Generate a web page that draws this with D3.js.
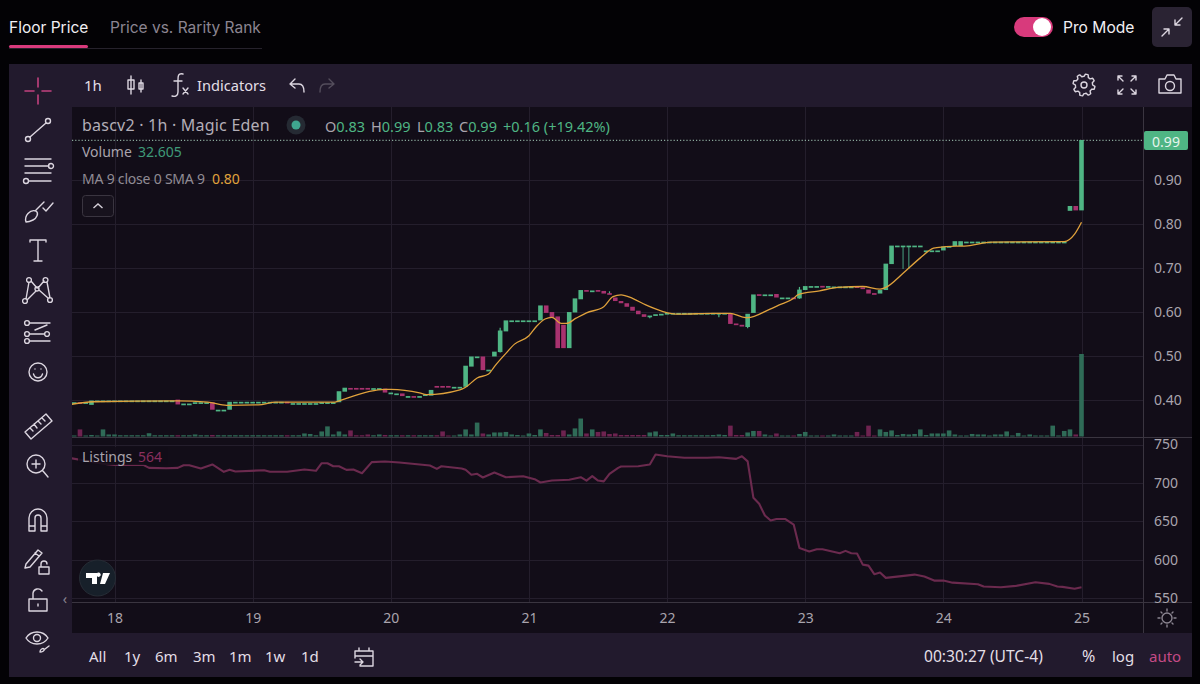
<!DOCTYPE html>
<html><head><meta charset="utf-8">
<script src="https://cdn.jsdelivr.net/npm/d3@7"></script>
<style>
html,body{margin:0;padding:0;background:#030205;overflow:hidden}
svg{display:block}
text{font-family:"Noto Sans",sans-serif}
.ui text,text.ui{font-family:Inter,sans-serif}
.axis path,.axis line{display:none}
.axis text{font-family:"Noto Sans",sans-serif;font-size:14px;fill:#a9a4ad}
</style></head><body>
<svg id="c" width="1200" height="684"></svg>
<script>
// ---- chart data ----
const firstHour = -7; // hours relative to day 18 00:00
const opens = [
 .392,.394,.393,.388,.398,.398,.398,
 .398,.398,.398,.398,.398,.398,.398,.398,.398,.398,
 .398,.400,.391,.391,.394,.394,.394,.394,.377,.377,
 .377,.395,.395,.395,.395,.395,.395,.395,.395,.395,
 .395,.392,.392,.392,.392,.392,.394,.394,.394,.394,
 .418,.4265,.4265,.4265,.4265,.426,.426,.425,.416,.414,
 .414,.408,.408,.408,.409,.409,.431,.431,.431,.429,
 .429,.429,.475,.498,.498,.468,.498,.508,.555,.58,
 .58,.58,.58,.58,.58,.614,.599,.589,.570,.517,
 .598,.628,.649,.648,.649,.647,.642,.632,.624,.619,
 .611,.602,.594,.590,.594,.595,.597,.597,.597,.597,
 .597,.597,.597,.597,.597,.597,.597,.595,.573,.570,
 .565,.597,.6395,.639,.639,.640,.632,.632,.632,.630,
 .649,.658,.658,.6585,.658,.657,.657,.657,.657,.6575,
 .655,.650,.642,.641,.649,.708,.75,.75,.75,.75,
 .75,.739,.739,.739,.739,.749,.749,.749,.759,.759,
 .759,.759,.759,.759,.759,.759,.759,.759,.759,.759,
 .759,.759,.759,.759,.759,.759,.829,.84,.83];
const closes = [
 .394,.393,.394,.398,.398,.398,.398,
 .398,.398,.398,.398,.398,.398,.398,.398,.398,.398,
 .398,.389,.391,.391,.394,.394,.394,.377,.377,.377,
 .395,.395,.395,.395,.395,.395,.395,.395,.395,.395,
 .393,.392,.392,.392,.392,.392,.394,.394,.394,.419,
 .427,.426,.426,.426,.426,.426,.426,.416,.416,.414,
 .408,.408,.407,.408,.412,.422,.430,.430,.430,.429,
 .429,.477,.498,.498,.467,.468,.509,.557,.580,.58,
 .58,.58,.58,.58,.614,.597,.586,.517,.517,.599,
 .630,.649,.648,.648,.648,.641,.641,.624,.619,.611,
 .602,.594,.588,.591,.594,.595,.597,.597,.597,.597,
 .597,.597,.597,.597,.597,.597,.597,.572,.572,.566,
 .595,.639,.639,.639,.639,.632,.632,.632,.631,.650,
 .658,.658,.658,.658,.658,.657,.657,.657,.657,.657,
 .653,.641,.641,.649,.709,.750,.75,.75,.75,.75,
 .75,.739,.739,.739,.748,.749,.760,.760,.759,.759,
 .759,.759,.759,.759,.759,.759,.759,.759,.759,.759,
 .759,.759,.759,.759,.759,.759,.84,.83,.99];
const wickHours = [67,86,93,105,110,119,137,138];
const wickHighs = [.564,.647,.591,.597,.595,.657,.75,.75];
const wickLows  = [.508,.641,.586,.588,.563,.630,.698,.698];
const volumes = [
 .4,2.8,.4,.6,.4,2.8,.8,
 .8,.5,.5,.5,.5,.5,1.3,.5,.5,.5,
 .5,.5,.5,.5,.8,.5,.5,.6,.5,.5,
 .5,.5,.5,.5,.5,.5,.5,.5,.5,.5,
 .5,.5,.5,1.2,1,.5,2,4,.8,2,
 .8,2.4,.5,.5,.8,.5,.8,.6,.5,.5,
 .5,.5,.5,.5,.5,.5,.5,2,.4,.4,
 .8,2.8,.8,5.5,1.2,.8,1.6,1.6,1.8,.8,
 .6,.4,1.2,.6,2.8,1.4,.6,.6,2.4,.8,
 3.2,7.1,1.2,2.8,1.8,2,1,1.2,.6,.6,
 .6,.6,.6,1.6,2,.6,.6,1.2,.5,.5,
 .5,.5,.5,.5,.6,.8,.6,4.3,.6,.6,
 1.6,2.2,2.2,.8,.4,1.2,.4,.4,.4,1,
 1.8,.4,.4,.4,.4,.8,.4,.4,.4,1.8,
 .4,4.3,.4,2.8,1.8,2.4,.6,1,.8,1,
 2.8,.6,1.2,1.2,1.2,2.4,.8,.4,.4,1,
 .8,.8,.4,.8,.8,2,.4,1.4,.4,.8,
 .4,.4,.4,4.3,.4,2.2,2.8,.8,32.605];
const maHours = [-8,-3.7,10.8,16.2,19.5,25,28,38.3,39,47,48,53,54.2,60,61,63,65,66,68,69.5,72,73.3,74.8,76,77.6,78.5,80.2,82,85,86.6,88,90,92.3,95.3,98,104,107,109,110,113.8,115.5,118,118.7,122.5,125.7,130,133,134,137,140,142.3,144,148.6,152.3,165,166.8,168];
const maValues = [.389,.396,.398,.395,.388,.389,.395,.395,.398,.424,.424,.416,.412,.423,.429,.450,.459,.476,.506,.527,.546,.567,.584,.588,.574,.574,.586,.598,.612,.635,.639,.631,.616,.601,.595,.597,.597,.589,.587,.606,.616,.631,.639,.648,.656,.658,.652,.656,.688,.723,.745,.748,.751,.759,.76,.777,.804];
const listingHours = [-7.5,-2,0,5,6,9,11,12,13,15,17,19,20,21,26,27,30,33,35,36,37,38,39,40.3,41.5,43,44.7,47,49.5,54.8,56,56.8,60.3,61,62,63,64,66,68,71,73,74,75,76,79,81,82,83,84,85,86,87.5,88,91,93,94,96,99,103,105,108,109,110,111,112,113,114,115,116.5,118,119,120.7,122,123,126,127,128,129,130,131,132,133,134,137.5,139,140.7,142.4,144,145.6,150,151,154,156.6,160,162.4,163.8,164.7,166.8,168];
const listingValues = [732,725,723.5,723.5,719.6,719,719.6,723,723,718.7,724,714.4,717,714.8,716.5,714.4,714.4,717.4,715.7,725.6,725.6,721.7,721.7,717,717.4,712.6,727,727.8,726.5,722.6,718.3,721.7,718.7,717,710.5,711.8,707,713.5,707.4,708.7,704.8,700.5,701.8,703,704,707.4,703,708.7,703,702,711.8,719.6,721.3,721.7,724,737,734.7,732.7,732.7,733.4,731.3,734.7,728,680.5,672.7,657.4,651,653,653,645.7,615,610.5,613.5,613.5,608.3,611.4,608.3,607.9,593.5,592.2,581,583.1,576.2,579.2,580.5,578,572.7,572.7,570,568,564.9,564,565.8,570.5,568.4,564.9,564.5,562,564];
const dayHours = [0,24,48,72,96,120,144,168];
const dayLabels = ["18","19","20","21","22","23","24","25"];
const priceTicks = [0.40,0.50,0.60,0.70,0.80,0.90];
const listingTicks = [550,600,650,700,750];
const rangeLabels = ["All","1y","6m","3m","1m","1w","1d"];
const lastPrice = 0.99;

// ---- colours ----
const bg="#030205", panel="#221a2d", plot="#120d18", grid="#241e2c", sep="#3a3540";
const up="#4fb584", down="#a8326f", upV="#2f6b57", downV="#6e2350", ma="#e0a23c", listC="#6b2a4e";

const svg=d3.select("#c");
const rect=(g,x,y,w,h,f,r)=>g.append("rect").attr("x",x).attr("y",y).attr("width",w).attr("height",h).attr("fill",f).attr("rx",r||0);
const txt=(g,x,y,s,size,f,anchor,cls)=>g.append("text").attr("x",x).attr("y",y).text(s).attr("font-size",size).attr("fill",f).attr("text-anchor",anchor||"start").attr("dominant-baseline","central").attr("class",cls||null);

rect(svg,0,0,1200,684,bg);
rect(svg,9,64,1183,613,panel);
rect(svg,72,107,1120,526,plot);

// scales
const x=d3.scaleLinear().domain([0,168]).range([114.5,1081.5]);
const yP=d3.scaleLinear().domain([0.40,0.90]).range([400,180]);
const yV=d3.scaleLinear().domain([0,32.605]).range([436.5,354]);
const yL=d3.scaleLinear().domain([550,750]).range([598,444.5]);

// grid
const gg=svg.append("g").attr("stroke",grid).attr("stroke-width",1).attr("shape-rendering","crispEdges");
const hl=(y)=>gg.append("line").attr("x1",72).attr("x2",1143).attr("y1",Math.round(y)+.5).attr("y2",Math.round(y)+.5);
priceTicks.forEach(t=>hl(yP(t)));
listingTicks.forEach(t=>hl(yL(t)));
dayHours.forEach(h=>gg.append("line").attr("x1",Math.round(x(h))+.5).attr("x2",Math.round(x(h))+.5).attr("y1",107).attr("y2",602));

// clip
svg.append("clipPath").attr("id","pane").append("rect").attr("x",72).attr("y",107).attr("width",1071).attr("height",495);
const m=svg.append("g").attr("clip-path","url(#pane)");

const idx=opens.map((_,i)=>i);
const hourOf=i=>firstHour+i;
const isUp=i=>closes[i]>=opens[i];

// volume
m.append("g").selectAll("rect").data(idx).join("rect")
 .attr("x",i=>x(hourOf(i))-2.3).attr("width",4.6)
 .attr("y",i=>yV(volumes[i])).attr("height",i=>yV(0)-yV(volumes[i]))
 .attr("fill",i=>isUp(i)?upV:downV);

// last-price line
m.append("line").attr("x1",72).attr("x2",1143).attr("y1",yP(lastPrice)).attr("y2",yP(lastPrice))
 .attr("stroke","#8aa89b").attr("stroke-width",1.2).attr("stroke-dasharray","1.2 2");

// wicks
wickHours.forEach((h,k)=>{
  m.append("line").attr("x1",x(h)).attr("x2",x(h)).attr("y1",yP(wickHighs[k])).attr("y2",yP(wickLows[k]))
   .attr("stroke",(h==137||h==138)?"#3f8a70":up).attr("stroke-width",1.2);
});
// candles
m.append("g").selectAll("rect").data(idx).join("rect")
 .attr("x",i=>x(hourOf(i))-2.3).attr("width",4.6)
 .attr("y",i=>yP(Math.max(opens[i],closes[i]))-.4)
 .attr("height",i=>Math.max(1.7,Math.abs(yP(opens[i])-yP(closes[i]))))
 .attr("fill",i=>isUp(i)?up:down);

// MA
m.append("path").attr("fill","none").attr("stroke",ma).attr("stroke-width",1.3).attr("stroke-linejoin","round")
 .attr("d",d3.line().x((_,i)=>x(maHours[i])).y(d=>yP(d)).curve(d3.curveMonotoneX)(maValues));

// Listings
m.append("path").attr("fill","none").attr("stroke",listC).attr("stroke-width",2.1).attr("stroke-linejoin","round")
 .attr("d",d3.line().x((_,i)=>x(listingHours[i])).y(d=>yL(d))(listingValues));

// separators
const sp=svg.append("g").attr("stroke",sep).attr("shape-rendering","crispEdges");
sp.append("line").attr("x1",72).attr("x2",1192).attr("y1",437.5).attr("y2",437.5);
sp.append("line").attr("x1",72).attr("x2",1192).attr("y1",602.5).attr("y2",602.5);
sp.append("line").attr("x1",1143.5).attr("x2",1143.5).attr("y1",107).attr("y2",633);

// axes
const fmtP=d3.format(".2f");
svg.append("g").attr("class","axis").attr("transform","translate(1143,0)")
 .call(d3.axisRight(yP).tickValues(priceTicks).tickFormat(fmtP).tickSize(0).tickPadding(11));
svg.append("g").attr("class","axis").attr("transform","translate(1143,0)")
 .call(d3.axisRight(yL).tickValues(listingTicks).tickFormat(d3.format("d")).tickSize(0).tickPadding(11));
svg.append("g").attr("class","axis").attr("transform","translate(0,603)")
 .call(d3.axisBottom(x).tickValues(dayHours).tickFormat((d,i)=>dayLabels[i]).tickSize(0).tickPadding(10));

// price tag
rect(svg,1144,131,44,19,up,2);
txt(svg,1166,141,fmtP(lastPrice),14,"#e6f4ec","middle");

// legend
const tc="#a9a4ad";
txt(svg,82,125,"bascv2 · 1h · Magic Eden",16,"#b3aeb7").attr("letter-spacing",.22);
svg.append("circle").attr("cx",296).attr("cy",125).attr("r",9.5).attr("fill","#252a33");
svg.append("circle").attr("cx",296).attr("cy",125).attr("r",4.5).attr("fill","#3fa58f");
const ohlcX=[325,371,417,459];
["O","H","L","C"].forEach((k,i)=>{
  const t=svg.append("text").attr("x",ohlcX[i]).attr("y",126).attr("font-size",14.5).attr("dominant-baseline","central");
  t.append("tspan").attr("fill",tc).text(k);
  t.append("tspan").attr("fill",up).text(["0.83","0.99","0.83","0.99"][i]);
});
txt(svg,503,126,"+0.16 (+19.42%)",14.5,up);
txt(svg,82,151,"Volume",14,tc);
txt(svg,138,151,"32.605",14,"#3f9a78");
txt(svg,82,178,"MA 9 close 0 SMA 9",14,"#908b94").attr("textLength",123);
txt(svg,212,178,"0.80",14,ma);
rect(svg,82.5,195.5,31,21,"#17121d",3).attr("stroke","#3a3540");
svg.append("path").attr("d","M93.5 208l4.5-4 4.5 4").attr("fill","none").attr("stroke","#d5d0d9").attr("stroke-width",1.4);
rect(svg,78,447,90,18,plot).attr("opacity",.85);
txt(svg,82,456,"Listings",14,tc);
txt(svg,138,456,"564",14,"#8a2f5e");

// top tabs
const ui=svg.append("g").attr("class","ui");
txt(ui,9,27,"Floor Price",15.5,"#f1eff3");
txt(ui,110,27,"Price vs. Rarity Rank",15.5,"#8b8591");
rect(ui,9,48,253,1,"#26222c");
rect(ui,9,45,79,3,"#d83a7c",1.5);
rect(ui,1014,17,39,20,"#d83a7c",10);
ui.append("circle").attr("cx",1042).attr("cy",27).attr("r",9).attr("fill","#fff");
txt(ui,1063,27,"Pro Mode",15.6,"#f1eff3");
rect(ui,1152,7,40,40,"#2a2333",5);

// toolbar / footer text
const light="#e3dfe6";
txt(svg,84,85,"1h",15,light);
txt(svg,197,85,"Indicators",14.6,light);
const rangeX=[89,124,155,193,229,265,301];
rangeLabels.forEach((s,i)=>txt(svg,rangeX[i],656,s,15,light));
txt(svg,924,656,"00:30:27 (UTC-4)",15.6,light);
txt(svg,1082,656,"%",16,light);
txt(svg,1112,656,"log",15,light);
txt(svg,1149,656,"auto",15,"#c44a86");
txt(svg,65,598,"‹",14,"#8b8591","middle");

// icons (decorative)
function ic(cx,cy,d,col,w){return svg.append("path").attr("transform",`translate(${cx},${cy})`).attr("d",d).attr("fill","none").attr("stroke",col||"#dcd6e0").attr("stroke-width",w||1.4).attr("stroke-linecap","round").attr("stroke-linejoin","round");}
const circ=(r,x0,y0)=>`M${x0-r} ${y0}a${r} ${r} 0 1 0 ${2*r} 0a${r} ${r} 0 1 0 ${-2*r} 0`;
ic(38,91,"M-13 0h9M4 0h9M0 -13v9M0 4v9","#c2417f",1.6);
ic(38,130,circ(2.5,-10,9)+circ(2.5,10,-9)+"M-8 7L8 -7");
ic(38,170,"M-13 -11h26M-13 -4h24"+circ(2.5,13,-4)+"M-13 3h26M-9 11h22"+circ(2.5,-12,11));
ic(38,211,"M-12 11c-2-6 4-13 10-11c3 2 1 7-3 9c-2 1-5 2-7 2zM-2 -1l8-8M5 -3l3 3l7-8");
ic(38,251,"M-8 -9v-2h16v2M0 -11v21M-4 10h8");
ic(38,291,circ(2.4,-9,-11)+circ(2.4,7.5,-11)+circ(2.4,-13,10)+circ(2.4,12,9)+circ(2,-1,-2)+"M-9 -9L-12 8M-7 -10L-1 -3M6 -10L0 -3M9 -9L12 7M-11 9L-2 0M1 -1L10 7");
ic(38,331,circ(2.4,-11,-8)+circ(2.4,-11,3)+circ(2.4,-11,10)+circ(2.4,9,3)+"M-8 -8h20M-8 3h15M-8 10h20M-3 -1l12 -5");
ic(38,372,circ(9,0,0)+"M-4.5 2c1.5 5 7.5 5 9 0M-3 -3v0M3 -3v0");
ic(38,426,"M-13 6L8 -12L14 -5L-7 13zM-8 2l3 3M-4 -2l3 4M0 -5l3 3M4 -8l3 3");
ic(37,465,circ(9,-1,-1)+"M-1 -5v8M-5 -1h8M6 6l5 6");
ic(38,520,"M-9 11v-13a9 9 0 0 1 18 0v13h-6v-13a3 3 0 0 0 -6 0v13zM-9 6h6M3 6h6");
ic(36,558,"M-10 6l12-14l4 3l-12 14l-5 1zM-1 -5l4 3");ic(44,568,"M-5 -1h10v7h-10zM-3 -1v-3a3 3 0 0 1 6 0");
ic(38,602,"M-9 -3h18v12h-18zM-5 -3v-6a5 5 0 0 1 9 -2M0 2v2");
ic(37,638,"M-11 0c5-8 17-8 22 0c-5 8-17 8-22 0z"+circ(3.5,0,0));ic(45,650,"M-5 2c0-3 3-4 4-3c1 2-2 3-4 3zM0 -1l4 -3");
ic(136,85,"M-5 -9v18M-8 -5h6v9h-6zM5 -5v12M3 -2h4v6h-4z");
ic(179,85,"M4 -11c-5-1-5 2-5 6v12c0 4-3 5-6 4M-5 -4h8M4 3l5 6M9 3l-5 6");
ic(297,85,"M-7 -1l5 -5M-7 -1l5 4M-7 -1h9c4 0 5 3 5 8");
ic(327,85,"M7 -1l-5 -5M7 -1l-5 4M7 -1h-9c-4 0 -5 3 -5 8","#544e5c");
// gear outline
const gearPts=d3.range(48).map(i=>{const a=i/48*2*Math.PI,r=(i%6<3)?11:8.6;return [Math.cos(a+.13)*r,Math.sin(a+.13)*r];});
ic(1084,85,d3.line().curve(d3.curveLinearClosed)(gearPts)+circ(3,0,0));
ic(1127,85,"M-9 -9l5 5M-9 -9v4M-9 -9h4M9 -9l-5 5M9 -9v4M9 -9h-4M-9 9l5 -5M-9 9v-4M-9 9h4M9 9l-5 -5M9 9v-4M9 9h-4");
ic(1170,85,"M-11 -6h6l2 -4h7l2 4h5v14h-22z"+circ(4.5,0,1));
ic(1172,27,"M3 -2l7 -7M3 -2h5M3 -2v-5M-3 2l-7 7M-3 2h-5M-3 2v5");
ic(364,656,"M-9 -5h18v15h-13M-9 -5v7M-9 0h18M-5 -8v3M5 -8v3M-9 6h8M-4 3l3 3l-3 3");
ic(1167,618,circ(5,0,0)+"M0 -9v2M0 7v2M-9 0h2M7 0h2M-6 -6l1 1M5 5l1 1M6 -6l-1 1M-5 5l-1 1","#8b8591");

// logo
svg.append("circle").attr("cx",97.5).attr("cy",578).attr("r",18).attr("fill","#17202a").attr("stroke","#262c35");
svg.append("path").attr("d","M86 573h11v11h-5v-6h-6zM98.5 577a2.2 2.2 0 1 1 .1 0zM103 573h7l-5 11h-5z").attr("fill","#fff");
</script></body></html>
